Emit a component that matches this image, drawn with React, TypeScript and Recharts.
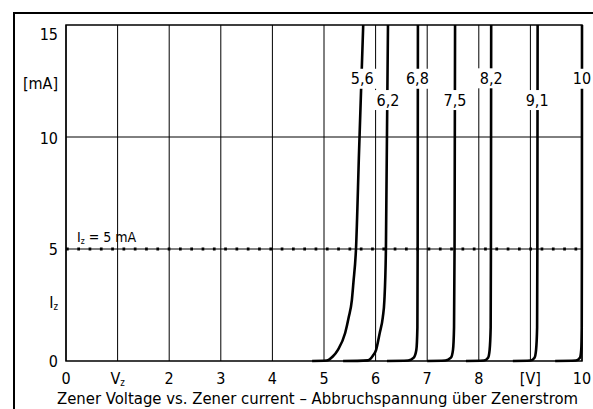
import React from 'react'
import {
  ComposedChart,
  Line,
  Scatter,
  XAxis,
  YAxis,
  CartesianGrid,
  ReferenceLine,
  ReferenceArea,
} from 'recharts'

const FONT = '"DejaVu Sans Condensed", "DejaVu Sans", sans-serif'

// axis ticks
const xTicks = [0, 1, 2, 3, 4, 5, 6, 7, 8, 9, 10]
const xTickLabels = ['0', 'V_z', '2', '3', '4', '5', '6', '7', '8', '[V]', '10']
const yTicks = [0, 2.63, 5, 10, 12.4, 15]
const yTickLabels = ['0', 'I_z', '5', '10', '[mA]', '15']
const yGrid = [5, 10]

// zener curves, [volts, mA]
const z56 = [[4.77, 0], [5.05, 0.02], [5.17, 0.2], [5.27, 0.5], [5.41, 1.25], [5.48, 1.96], [5.54, 2.72], [5.57, 3.5], [5.62, 5], [5.68, 9.4], [5.76, 15]]
const z62 = [[5.37, 0], [5.85, 0.03], [5.95, 0.25], [6.01, 0.5], [6.08, 1.25], [6.14, 1.96], [6.17, 2.7], [6.2, 5], [6.24, 15]]
const z68 = [[6.22, 0], [6.63, 0.02], [6.74, 0.15], [6.79, 0.5], [6.81, 1.5], [6.815, 5], [6.82, 15]]
const z75 = [[7.0, 0], [7.35, 0.02], [7.46, 0.15], [7.5, 0.5], [7.52, 1.5], [7.53, 5], [7.54, 15]]
const z82 = [[7.75, 0], [8.1, 0.02], [8.18, 0.15], [8.21, 0.5], [8.23, 1.5], [8.235, 5], [8.24, 15]]
const z91 = [[8.66, 0], [9.0, 0.02], [9.08, 0.15], [9.11, 0.5], [9.13, 1.5], [9.135, 5], [9.14, 15]]
const z10 = [[9.48, 0], [9.88, 0.02], [9.96, 0.15], [9.985, 0.5], [9.995, 1.5], [9.998, 5], [10, 15]]
const curves = [z56, z62, z68, z75, z82, z91, z10]

// curve labels
const labelNames = ['5,6', '6,2', '6,8', '7,5', '8,2', '9,1', '10']
const labelV = [5.74, 6.24, 6.81, 7.54, 8.24, 9.13, 10]
const labelI = [12.6, 11.65, 12.6, 11.65, 12.62, 11.65, 12.6]

const labelData = labelNames.map((name, k) => ({ v: labelV[k], i: labelI[k], name }))
const toPoints = (c: number[][]) => c.map(([v, i]) => ({ v, i }))

function SubText({ text }: { text: string }) {
  const [main, sub] = text.split('_')
  return (
    <>
      {main}
      {sub && (
        <tspan fontSize="0.6em" dy={2}>
          {sub}
        </tspan>
      )}
    </>
  )
}

const XTick = ({ x, y, payload }: any) => {
  const k = xTicks.indexOf(payload.value)
  return (
    <text x={x} y={y} dy="0.71em" textAnchor="middle" fontSize={16} fontFamily={FONT} fill="#000">
      <SubText text={xTickLabels[k] ?? String(payload.value)} />
    </text>
  )
}

const YTick = ({ x, y, payload }: any) => {
  const k = yTicks.indexOf(payload.value)
  const shift = payload.value === 15 ? 9.5 : payload.value === 10 ? 1.5 : 0
  return (
    <text x={x} y={y + shift} dy="0.355em" textAnchor="end" fontSize={16} fontFamily={FONT} fill="#000">
      <SubText text={yTickLabels[k] ?? String(payload.value)} />
    </text>
  )
}

const CurveLabel = ({ cx, cy, payload }: any) => {
  const w = payload.name.length * 8 + 6
  return (
    <g>
      <rect x={cx - w / 2} y={cy - 10} width={w} height={20} fill="#fff" />
      <text x={cx} y={cy} dy="0.355em" textAnchor="middle" fontSize={16} fontFamily={FONT} fill="#000">
        {payload.name}
      </text>
    </g>
  )
}

const Title = () => (
  <text
    x={317.5}
    y={404}
    textAnchor="middle"
    fontSize={16.5}
    fontFamily={FONT}
    fill="#000"
    textLength={521}
    lengthAdjust="spacingAndGlyphs"
  >
    Zener Voltage vs. Zener current – Abbruchspannung über Zenerstrom
  </text>
)

const IzLabel = ({ viewBox }: any) => (
  <text x={viewBox.x + 11} y={viewBox.y - 7} fontSize={14} fontFamily={FONT} fill="#000">
    I<tspan fontSize="0.6em" dy={2}>z</tspan>
    <tspan dy={-2}> = 5 mA</tspan>
  </text>
)

export default function App() {
  return (
    <div style={{ position: 'absolute', left: 0, top: 0, width: 593, height: 409, background: '#fff' }}>
      <div
        style={{
          position: 'absolute',
          left: 13,
          top: 12,
          width: 593 - 13,
          height: 409 - 12,
          borderLeft: '2px solid #000',
          borderTop: '2px solid #000',
        }}
      />
      <div style={{ position: 'absolute', left: 0, top: 0 }}>
        <ComposedChart width={593} height={409} margin={{ top: 25, right: 11, bottom: 0, left: 0 }}>
          <CartesianGrid stroke="#000" strokeWidth={1} horizontal={false} />
          <XAxis
            type="number"
            dataKey="v"
            domain={[0, 10]}
            ticks={xTicks}
            height={48}
            axisLine={false}
            tickLine={false}
            tickSize={0}
            tickMargin={12}
            tick={<XTick />}
            interval={0}
            label={<Title />}
          />
          <YAxis
            type="number"
            domain={[0, 15]}
            ticks={yTicks}
            width={66}
            axisLine={false}
            tickLine={false}
            tickSize={0}
            tickMargin={8}
            tick={<YTick />}
            interval={0}
          />
          {yGrid.map((g) => (
            <ReferenceLine key={g} y={g} stroke="#000" strokeWidth={1} />
          ))}
          <ReferenceArea x1={0} x2={10} y1={0} y2={15} fill="none" stroke="#000" strokeWidth={1.5} />
          <ReferenceLine
            y={5}
            stroke="#000"
            strokeWidth={3}
            strokeDasharray="2.7 8.6"
            label={<IzLabel />}
          />
          {curves.map((c, k) => (
            <Line
              key={labelNames[k]}
              data={toPoints(c)}
              dataKey="i"
              type="monotone"
              stroke="#000"
              strokeWidth={2.6}
              dot={false}
              activeDot={false}
              isAnimationActive={false}
            />
          ))}
          <Scatter data={labelData} dataKey="i" shape={<CurveLabel />} isAnimationActive={false} />
        </ComposedChart>
      </div>
    </div>
  )
}
